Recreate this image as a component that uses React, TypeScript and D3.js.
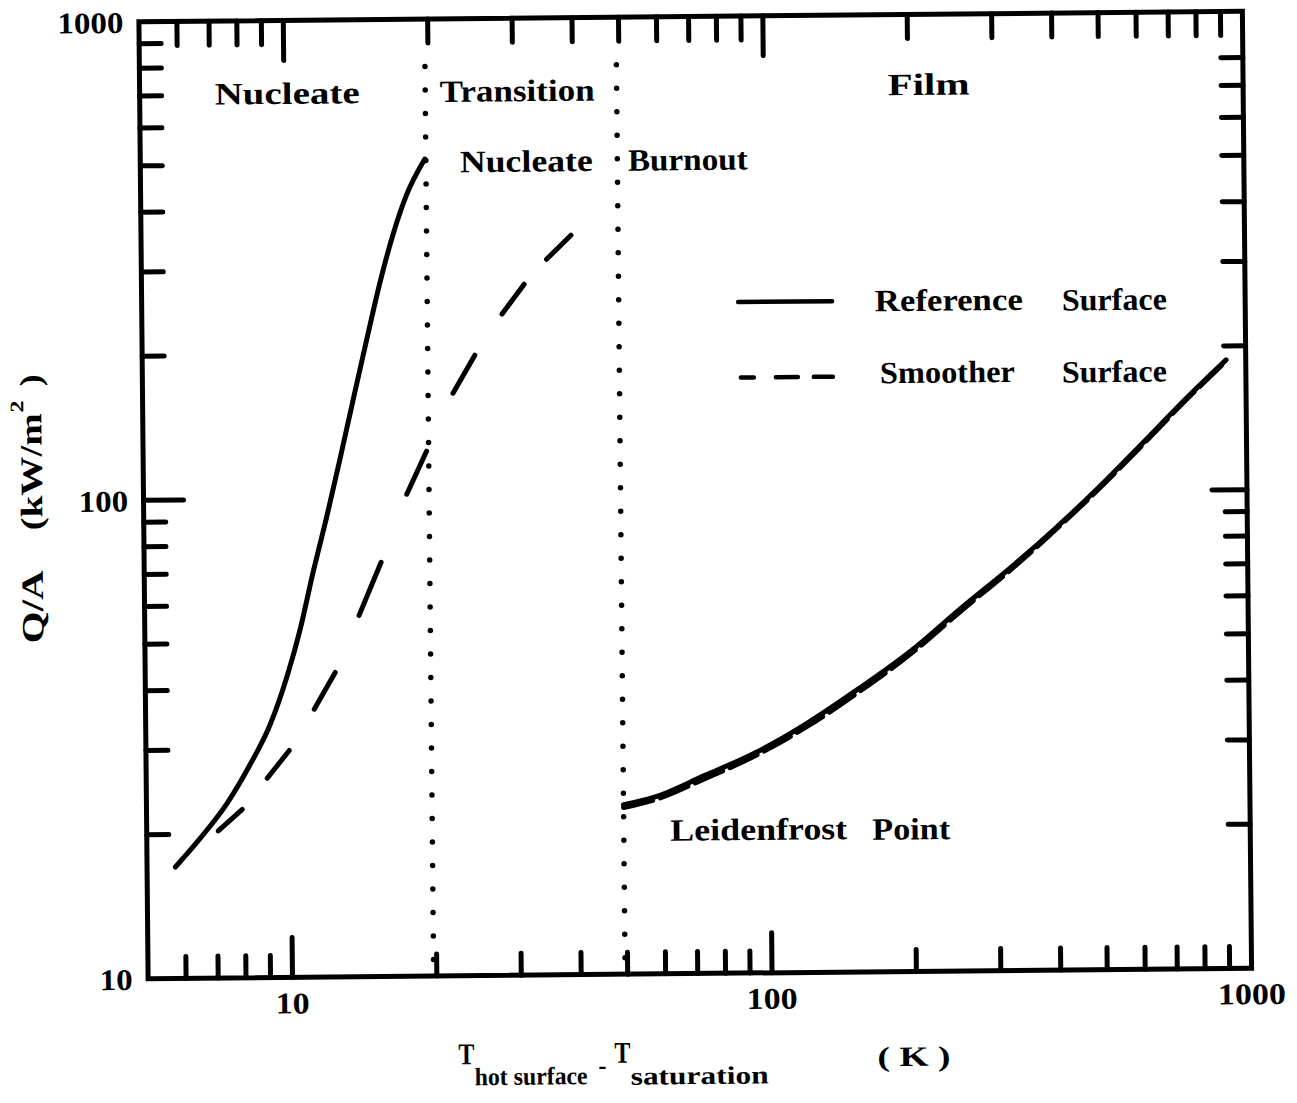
import React from 'react';
import * as d3 from 'd3';

// ---- Data ----
const xDomain: [number, number] = [5, 1000];
const yDomain: [number, number] = [10, 1000];
const xMajorTicks = [10, 100, 1000];
const xMinorTicks = [6, 7, 8, 9, 20, 30, 40, 50, 60, 70, 80, 90, 200, 300, 400, 500, 600, 700, 800, 900];
const yMajorTicks = [10, 100, 1000];
const yMinorTicksLeft = [20, 30, 40, 50, 60, 70, 80, 90, 200, 300, 400, 500, 600, 700, 800, 900];
const yMinorTicksRight = [20, 30, 40, 50, 60, 70, 80, 90, 200, 300, 400, 500, 600, 700, 800];
const xTickLabels = ['10', '100', '1000'];
const yTickLabels = ['10', '100', '1000'];

// regime boundaries (dotted lines), K
const regimeBoundaries = [19.7, 49.4];

// Reference surface, nucleate boiling branch [dT (K), Q/A (kW/m2)]
const referenceNucleate: [number, number][] = [
  [5.73, 17.1], [6.46, 19.6], [7.37, 23.2], [8.24, 27.9], [9.09, 33.8], [9.88, 42.6],
  [10.54, 53.3], [11.25, 70.2], [12.06, 92.2], [12.87, 121], [13.73, 160], [14.7, 214],
  [15.7, 281], [16.75, 354], [17.9, 428], [19.6, 510],
];

// Reference surface, film boiling branch
const referenceFilm: [number, number][] = [
  [49.4, 22.6], [57.3, 23.4], [72.9, 25.9], [94.2, 29.0], [119.9, 33.2], [152.6, 38.9],
  [198, 46.8], [251, 57.1], [326, 70.5], [397, 83.6], [487, 101], [594, 123], [757, 157], [910, 187],
];

// Smoother surface, nucleate/transition branch (drawn dashes: start & end points)
const smootherNucleateDashes: [number, number][][] = [
  [[7.05, 20.3], [7.92, 22.5]],
  [[8.94, 26.1], [9.95, 29.8]],
  [[11.24, 36.3], [12.45, 43.3]],
  [[14.0, 56.9], [15.6, 73.4]],
  [[17.7, 101.7], [19.5, 125]],
  [[22.2, 165], [24.7, 198]],
  [[28.2, 241], [31.4, 278]],
  [[35.0, 313], [39.4, 351]],
];

// Smoother surface, film boiling branch
const smootherFilm: [number, number][] = [
  [49.4, 22.3], [57.3, 23.1], [72.9, 25.5], [94.2, 28.6], [119.9, 32.7], [152.6, 38.3],
  [198, 46.2], [251, 56.4], [326, 69.8], [397, 83.0], [487, 100.3], [594, 122], [757, 156], [910, 186],
];

const legendLabels = [
  ['Reference', 'Surface'],
  ['Smoother', 'Surface'],
];

// ---- Layout ----
const W = 1297;
const H = 1103;
const L = 143.5;
const R = 1247;
const T = 16.5;
const B = 973.5;

const serif = '"Liberation Serif", "DejaVu Serif", serif';

export default function App() {
  const x = d3.scaleLog().domain(xDomain).range([L, R]);
  const y = d3.scaleLog().domain(yDomain).range([B, T]);

  const smooth = d3
    .line<[number, number]>()
    .x((d) => x(d[0]))
    .y((d) => y(d[1]))
    .curve(d3.curveMonotoneX);
  const straight = d3
    .line<[number, number]>()
    .x((d) => x(d[0]))
    .y((d) => y(d[1]));

  const minorLen = 22;
  const majorLen = 40;
  const tickStyle = { stroke: '#000', strokeWidth: 5, strokeLinecap: 'round' as const };

  const regionText = (t: string, px: number, py: number, len: number, key: string) => (
    <text
      key={key}
      x={px}
      y={py}
      textLength={len}
      lengthAdjust="spacingAndGlyphs"
      fontFamily={serif}
      fontWeight="bold"
      fontSize={31}
      fill="#000"
    >
      {t}
    </text>
  );

  return (
    <svg
      width={W}
      height={H}
      style={{ position: 'absolute', left: 0, top: 0, background: '#fff' }}
    >
      <rect x={0} y={0} width={W} height={H} fill="#fff" />
      <g transform="rotate(-0.55 695 495)">
        {/* frame */}
        <rect x={L} y={T} width={R - L} height={B - T} fill="none" stroke="#000" strokeWidth={5} />

        {/* x ticks bottom & top */}
        {xMinorTicks.map((v) => (
          <g key={'xm' + v}>
            <line x1={x(v)} x2={x(v)} y1={B} y2={B - minorLen} {...tickStyle} />
            <line x1={x(v)} x2={x(v)} y1={T} y2={T + minorLen + 2} {...tickStyle} />
          </g>
        ))}
        {xMajorTicks.slice(0, 2).map((v) => (
          <g key={'xM' + v}>
            <line x1={x(v)} x2={x(v)} y1={B} y2={B - majorLen} {...tickStyle} />
            <line x1={x(v)} x2={x(v)} y1={T} y2={T + majorLen} {...tickStyle} />
          </g>
        ))}

        {/* y ticks left & right */}
        {yMinorTicksLeft.map((v) => (
          <line key={'ylm' + v} x1={L} x2={L + minorLen} y1={y(v)} y2={y(v)} {...tickStyle} />
        ))}
        {yMinorTicksRight.map((v) => (
          <line key={'yrm' + v} x1={R} x2={R - minorLen} y1={y(v)} y2={y(v)} {...tickStyle} />
        ))}
        {yMajorTicks.slice(1, 2).map((v) => (
          <g key={'yM' + v}>
            <line x1={L} x2={L + majorLen} y1={y(v)} y2={y(v)} {...tickStyle} />
            <line x1={R} x2={R - majorLen + 5} y1={y(v)} y2={y(v)} {...tickStyle} />
          </g>
        ))}

        {/* tick labels */}
        {xMajorTicks.map((v, i) => (
          <text
            key={'xl' + v}
            x={x(v)}
            y={B + 36}
            textAnchor="middle"
            fontFamily={serif}
            fontWeight="bold"
            fontSize={30}
            textLength={xTickLabels[i].length * 17}
            lengthAdjust="spacingAndGlyphs"
          >
            {xTickLabels[i]}
          </text>
        ))}
        {yMajorTicks.map((v, i) => (
          <text
            key={'yl' + v}
            x={128}
            y={y(v) + 11}
            textAnchor="end"
            fontFamily={serif}
            fontWeight="bold"
            fontSize={30}
            textLength={yTickLabels[i].length * 16.5}
            lengthAdjust="spacingAndGlyphs"
          >
            {yTickLabels[i]}
          </text>
        ))}

        {/* regime boundaries */}
        {regimeBoundaries.map((v) => (
          <line
            key={'rb' + v}
            x1={x(v)}
            x2={x(v)}
            y1={64}
            y2={B - 2}
            stroke="#000"
            strokeWidth={5.5}
            strokeLinecap="round"
            strokeDasharray="0 23.5"
          />
        ))}

        {/* reference surface */}
        <path d={smooth(referenceNucleate) || ''} fill="none" stroke="#000" strokeWidth={5} strokeLinecap="round" />
        <path d={smooth(referenceFilm) || ''} fill="none" stroke="#000" strokeWidth={5} strokeLinecap="round" />

        {/* smoother surface */}
        {smootherNucleateDashes.map((seg, i) => (
          <path key={'sd' + i} d={straight(seg) || ''} fill="none" stroke="#000" strokeWidth={5} strokeLinecap="round" />
        ))}
        <path
          d={smooth(smootherFilm) || ''}
          fill="none"
          stroke="#000"
          strokeWidth={5}
          strokeLinecap="round"
          strokeDasharray="30 8"
        />

        {/* region labels */}
        {regionText('Nucleate', 218.5, 100, 145, 'n1')}
        {regionText('Transition', 443.5, 99.5, 155, 'tr')}
        {regionText('Nucleate', 463, 170, 133, 'n2')}
        {regionText('Burnout', 631, 170, 120, 'bo')}
        {regionText('Film', 891.5, 97, 82, 'fi')}
        {regionText('Leidenfrost', 667, 840.5, 177, 'lf')}
        {regionText('Point', 869, 841.5, 78, 'pt')}

        {/* legend */}
        <line x1={740} x2={834} y1={302.5} y2={302.5} stroke="#000" strokeWidth={4.5} strokeLinecap="round" />
        <line
          x1={742}
          x2={834}
          y1={378}
          y2={378}
          stroke="#000"
          strokeWidth={4.5}
          strokeLinecap="round"
          strokeDasharray="13 22 22 16 19"
        />
        {regionText(legendLabels[0][0], 876.6, 313, 148, 'lg1')}
        {regionText(legendLabels[0][1], 1063.7, 314, 105, 'lg2')}
        {regionText(legendLabels[1][0], 881, 385, 135, 'lg3')}
        {regionText(legendLabels[1][1], 1063, 386, 105, 'lg4')}

        {/* x axis title */}
        <g fontFamily={serif} fontWeight="bold" fill="#000">
          <text x={453} y={1062} fontSize={30} textLength={16} lengthAdjust="spacingAndGlyphs">T</text>
          <text x={469} y={1083} fontSize={25} textLength={113} lengthAdjust="spacingAndGlyphs">hot surface</text>
          <text x={593} y={1073} fontSize={26} textLength={8} lengthAdjust="spacingAndGlyphs">-</text>
          <text x={609} y={1062} fontSize={30} textLength={16} lengthAdjust="spacingAndGlyphs">T</text>
          <text x={625} y={1084} fontSize={25} textLength={138} lengthAdjust="spacingAndGlyphs">saturation</text>
          <text x={872} y={1068} fontSize={28} textLength={73} lengthAdjust="spacingAndGlyphs">( K )</text>
        </g>

        {/* y axis title */}
        <g fontFamily={serif} fontWeight="bold" fill="#000">
          <text transform="translate(42,637) rotate(-90)" fontSize={31} textLength={73} lengthAdjust="spacingAndGlyphs">Q/A</text>
          <text transform="translate(42,524) rotate(-90)" fontSize={31} textLength={117} lengthAdjust="spacingAndGlyphs">(kW/m</text>
          <text transform="translate(24,406) rotate(-90)" fontSize={19} textLength={12} lengthAdjust="spacingAndGlyphs">2</text>
          <text transform="translate(42,380) rotate(-90)" fontSize={31} textLength={12} lengthAdjust="spacingAndGlyphs">)</text>
        </g>
      </g>
    </svg>
  );
}
